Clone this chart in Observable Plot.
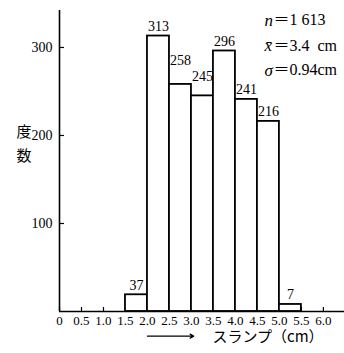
<!DOCTYPE html>
<html><head><meta charset="utf-8">
<script src="https://cdn.jsdelivr.net/npm/d3@7"></script>
<script src="https://cdn.jsdelivr.net/npm/@observablehq/plot@0.6"></script>
<style>body{margin:0;background:#fff}svg{overflow:visible}</style>
</head><body><div id="chart"></div>
<script>
// data
const binStarts = [1.5, 2.0, 2.5, 3.0, 3.5, 4.0, 4.5, 5.0];
const binWidth = 0.5;
const counts = [37, 313, 258, 245, 296, 241, 216, 7];        // printed labels
const drawnHeights = [19, 313, 258, 245, 296, 241, 216, 8]; // bar heights as drawn
const xTicks = [0, 0.5, 1.0, 1.5, 2.0, 2.5, 3.0, 3.5, 4.0, 4.5, 5.0, 5.5, 6.0];
const yTicks = [100, 200, 300];
const statSymbols = ["n", "x\u0304", "\u03c3"];
const statValues = ["\uff1d1 613", "\uff1d3.4\u2002cm", "\uff1d0.94cm"];
const yLabel = "度\n数";
const xLabel = "スランプ（cm）";

// layout helpers (not data)
const labelRaise = [0, 0, 16, 11, 0, 0, 0, 0];
const statPos = {x: 4.66, y: [331, 302, 274]};
const arrowPos = {x1: 2.0, x2: 3.05, y: -28};

const bins = binStarts.map((s, i) => ({x1: s, x2: s + binWidth, h: drawnHeights[i], count: counts[i], raise: labelRaise[i]}));
const stats = statSymbols.map((s, i) => ({sym: s, val: statValues[i], y: statPos.y[i]}));

const font = "'Liberation Serif', 'Noto Sans CJK JP', serif";

const chart = Plot.plot({
  width: 344, height: 353,
  marginLeft: 59, marginRight: 0, marginTop: 10, marginBottom: 42,
  style: {fontFamily: font, fontSize: "14px", color: "#000", background: "#fff"},
  x: {domain: [0, 6.48]},
  y: {domain: [0, 342]},
  marks: [
    Plot.axisX({ticks: xTicks, tickSize: -4, tickPadding: 8, tickFormat: d => d === 0 ? "0" : d.toFixed(1), fontSize: 13, label: null, stroke: "#000", strokeWidth: 1.2}),
    Plot.axisY({ticks: yTicks, tickSize: -5, tickPadding: 12, fontSize: 14, label: null, stroke: "#000", strokeWidth: 1.2}),
    Plot.rectY(bins, {x1: "x1", x2: "x2", y: "h", fill: "#fff", stroke: "#000", strokeWidth: 1.8}),
    Plot.ruleX([0], {stroke: "#000", strokeWidth: 1.6}),
    Plot.ruleY([0], {stroke: "#000", strokeWidth: 1.6}),
    Plot.text(bins, {x: d => (d.x1 + d.x2) / 2, y: d => d.h + d.raise, text: "count", lineAnchor: "bottom", dy: -5, fontSize: 14, fill: "#000"}),
    Plot.text(stats, {x: statPos.x, y: "y", text: "sym", textAnchor: "start", fontStyle: "italic", fontSize: 17, fill: "#000"}),
    Plot.text(stats, {x: statPos.x, y: "y", text: "val", textAnchor: "start", dx: 9, fontSize: 16, fill: "#000"}),
    Plot.text([yLabel], {frameAnchor: "left", dx: -43, dy: -20, lineHeight: 1.6, fontSize: 15, fill: "#000"}),
    Plot.arrow([arrowPos], {x1: "x1", x2: "x2", y1: "y", y2: "y", stroke: "#000", strokeWidth: 1.2, headLength: 5, bend: 0}),
    Plot.text([xLabel], {frameAnchor: "bottom", dx: 66, dy: 30, fontSize: 15, fill: "#000", fontFamily: "'Noto Sans CJK JP', sans-serif", letterSpacing: "2.5px"})
  ]
});
document.getElementById("chart").appendChild(chart);
</script>
</body></html>
